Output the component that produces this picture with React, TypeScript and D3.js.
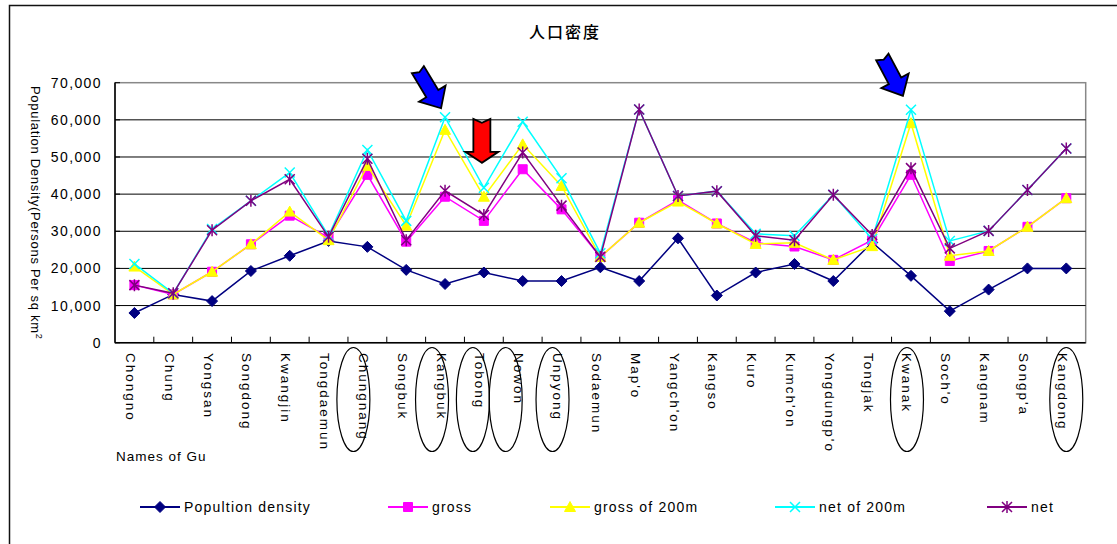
import * as d3 from "d3";
import { useEffect, useRef } from "react";

const guNames = [
  "Chongno", "Chung", "Yongsan", "Songdong", "Kwangjin", "Tongdaemun", "Chungnang",
  "Songbuk", "Kangbuk", "Tobong", "Nowon", "Unpyong", "Sodaemun", "Map'o",
  "Yangch'on", "Kangso", "Kuro", "Kumch'on", "Yongdungp'o", "Tongjak", "Kwanak",
  "Soch'o", "Kangnam", "Songp'a", "Kangdong",
];

const popDensity = [8000, 13000, 11200, 19300, 23400, 27400, 25800, 19600, 15800, 18900, 16600, 16600, 20300, 16600, 28100, 12700, 18900, 21200, 16600, 27000, 18000, 8500, 14300, 20000, 20000];
const gross = [15500, 13000, 19100, 26500, 34200, 28300, 45200, 27200, 39300, 32800, 46700, 35900, 23100, 32300, 38400, 32100, 26900, 25900, 22300, 27600, 45200, 22000, 24700, 31200, 38900];
const gross200 = [20500, 13000, 19100, 26500, 35300, 27600, 47600, 31500, 57300, 39300, 53400, 42200, 23100, 32300, 38000, 32100, 26600, 26900, 22300, 26000, 59100, 23400, 24700, 31200, 38900];
const net200 = [21200, 13300, 30600, 38200, 45800, 28800, 51900, 32800, 60700, 41700, 59500, 44300, 24100, 62800, 39500, 40800, 29300, 28800, 39800, 27900, 62700, 27400, 30100, 41100, 52300];
const net = [15500, 13300, 30300, 38200, 44000, 28500, 49500, 27600, 40900, 34400, 51200, 36900, 23100, 62800, 39500, 40800, 28800, 27600, 39800, 29000, 47000, 25400, 30100, 41100, 52300];

const yTicks = [0, 10000, 20000, 30000, 40000, 50000, 60000, 70000];

const seriesNames = ["Popultion density", "gross", "gross of 200m", "net of 200m", "net"];
const seriesColors = ["#000080", "#FF00FF", "#FFFF00", "#00FFFF", "#800080"];
const seriesMarkers = ["diamond", "square", "triangle", "cross", "star"];

// circled gu labels (annotation)
const circledGu = ["Chungnang", "Kangbuk", "Tobong", "Nowon", "Unpyong", "Kwanak", "Kangdong"];
const circleShift = [-14, -13, -11, -17, -9, -4, 0];

const W = 1117;
const H = 544;
const LATIN = "'Liberation Sans', Arial, sans-serif";

function markerPath(kind: string) {
  switch (kind) {
    case "diamond": return "M0,-5.5L5.5,0L0,5.5L-5.5,0Z";
    case "square": return "M-4.5,-4.5H4.5V4.5H-4.5Z";
    case "triangle": return "M0,-5.5L5.5,4.5L-5.5,4.5Z";
    case "cross": return "M-5,-5L5,5M-5,5L5,-5";
    default: return "M-5,-5L5,5M-5,5L5,-5M0,-6L0,6";
  }
}

// arrow pointing along +y with the tip at 0,0
function arrowPath(len: number, shaftW: number, headW: number, headL: number, notch: number) {
  const s = shaftW / 2, h = headW / 2;
  return `M0,0L${-h},${-headL}L${-s},${-headL}L${-s},${-len}L0,${-len + notch}L${s},${-len}L${s},${-headL}L${h},${-headL}Z`;
}

export default function App() {
  const svgRef = useRef<SVGSVGElement | null>(null);

  useEffect(() => {
    if (!svgRef.current) return;
    const svg = d3.select(svgRef.current);
    svg.selectAll("*").remove();

    const left = 115, right = 1085.7, top = 82.7, bottom = 342.7;

    const x = d3.scaleBand().domain(guNames).range([left, right]).padding(0);
    const cx = (n: string) => (x(n) || 0) + x.bandwidth() / 2;
    const y = d3.scaleLinear().domain([0, 70000]).range([bottom, top]);

    // outer chart border
    svg.append("rect")
      .attr("x", 9.5).attr("y", 5.5)
      .attr("width", 1300).attr("height", 700)
      .attr("fill", "#fff").attr("stroke", "#111").attr("stroke-width", 1.5);

    // title
    svg.append("text")
      .attr("x", 565).attr("y", 38)
      .attr("text-anchor", "middle")
      .style("font-family", "'Noto Sans CJK JP', sans-serif")
      .style("font-size", "16px")
      .style("font-weight", 500)
      .style("letter-spacing", "2px")
      .text("人口密度");

    // plot area border
    svg.append("rect")
      .attr("x", left).attr("y", top)
      .attr("width", right - left).attr("height", bottom - top)
      .attr("fill", "none").attr("stroke", "#888").attr("stroke-width", 1.5);

    // gridlines
    svg.append("g").selectAll("line")
      .data(yTicks.filter(t => t > 0 && t < 70000))
      .enter().append("line")
      .attr("x1", left).attr("x2", right)
      .attr("y1", d => y(d)).attr("y2", d => y(d))
      .attr("stroke", "#000").attr("stroke-width", 1);

    // axes
    svg.append("line").attr("x1", left).attr("x2", left).attr("y1", top).attr("y2", bottom)
      .attr("stroke", "#000").attr("stroke-width", 1.5);
    svg.append("line").attr("x1", left).attr("x2", right).attr("y1", bottom).attr("y2", bottom)
      .attr("stroke", "#000").attr("stroke-width", 1.5);

    // y ticks + labels
    const yg = svg.append("g");
    yTicks.forEach(t => {
      yg.append("line").attr("x1", left).attr("x2", left + 5).attr("y1", y(t)).attr("y2", y(t))
        .attr("stroke", "#000").attr("stroke-width", 1);
      yg.append("text")
        .attr("x", 102).attr("y", y(t) + 5)
        .attr("text-anchor", "end")
        .style("font-family", LATIN)
        .style("font-size", "14px")
        .style("letter-spacing", "1.4px")
        .text(d3.format(",")(t));
    });

    // x ticks (between categories, inside)
    svg.append("g").selectAll("line")
      .data(guNames.slice(1))
      .enter().append("line")
      .attr("x1", d => x(d) || 0).attr("x2", d => x(d) || 0)
      .attr("y1", bottom - 6).attr("y2", bottom)
      .attr("stroke", "#000").attr("stroke-width", 1);

    // x labels rotated
    svg.append("g").selectAll("text")
      .data(guNames)
      .enter().append("text")
      .attr("transform", d => `translate(${cx(d) - 8.5},353) rotate(90)`)
      .style("font-family", LATIN)
      .style("font-size", "13.5px")
      .style("letter-spacing", "2px")
      .text(d => d);

    // circled labels
    svg.append("g").selectAll("ellipse")
      .data(circledGu)
      .enter().append("ellipse")
      .attr("cx", (d, i) => cx(d) + circleShift[i])
      .attr("cy", 399.5)
      .attr("rx", 16.5).attr("ry", 52)
      .attr("fill", "none").attr("stroke", "#000").attr("stroke-width", 1.2);

    svg.append("text")
      .attr("x", 116).attr("y", 461)
      .style("font-family", LATIN)
      .style("font-size", "13.5px")
      .style("letter-spacing", "1px")
      .text("Names of  Gu");

    // y axis title
    const yt = svg.append("text")
      .attr("transform", "translate(31,86) rotate(90)")
      .style("font-family", LATIN)
      .style("font-size", "13px")
      .style("letter-spacing", "0.7px");
    yt.append("tspan").text("Population Density(Persons Per sq km");
    yt.append("tspan").attr("dy", -5).style("font-size", "9px").text("2");

    // series
    const allSeries = [popDensity, gross, gross200, net200, net];
    const line = d3.line<number>()
      .x((d, i) => cx(guNames[i]))
      .y(d => y(d));

    allSeries.forEach((vals, si) => {
      const color = seriesColors[si];
      const g = svg.append("g");
      g.append("path")
        .attr("d", line(vals) || "")
        .attr("fill", "none")
        .attr("stroke", color)
        .attr("stroke-width", 1.5);
      const kind = seriesMarkers[si];
      const stroked = kind === "cross" || kind === "star";
      g.selectAll("path.m")
        .data(vals)
        .enter().append("path")
        .attr("class", "m")
        .attr("transform", (d, i) => `translate(${cx(guNames[i])},${y(d)})`)
        .attr("d", markerPath(kind))
        .attr("fill", stroked ? "none" : color)
        .attr("stroke", color)
        .attr("stroke-width", stroked ? 1.5 : 1);
    });

    // arrows
    const arrows = [
      { gu: "Kangbuk", vals: net200, dx: -4, dy: -9, rot: -31, color: "#0000FF", len: 45, sw: 14, hw: 31, hl: 17, notch: 3 },
      { gu: "Tobong", vals: net200, dx: -2, dy: -25, rot: 0, color: "#FF0000", len: 44, sw: 17, hw: 33, hl: 11, notch: 4 },
      { gu: "Kwanak", vals: net200, dx: -8, dy: -14, rot: -28, color: "#0000FF", len: 44, sw: 14, hw: 31, hl: 17, notch: 3 },
    ];
    arrows.forEach(a => {
      const i = guNames.indexOf(a.gu);
      svg.append("path")
        .attr("transform", `translate(${cx(a.gu) + a.dx},${y(a.vals[i]) + a.dy}) rotate(${a.rot})`)
        .attr("d", arrowPath(a.len, a.sw, a.hw, a.hl, a.notch))
        .attr("fill", a.color)
        .attr("stroke", "#000")
        .attr("stroke-width", 1.8)
        .attr("stroke-linejoin", "miter");
    });

    // legend
    const legendX = [140, 388, 550, 775, 987];
    const ly = 507;
    seriesNames.forEach((name, si) => {
      const lx = legendX[si];
      const color = seriesColors[si];
      const kind = seriesMarkers[si];
      const stroked = kind === "cross" || kind === "star";
      svg.append("line").attr("x1", lx).attr("x2", lx + 40).attr("y1", ly).attr("y2", ly)
        .attr("stroke", color).attr("stroke-width", 2);
      svg.append("path")
        .attr("transform", `translate(${lx + 20},${ly})`)
        .attr("d", markerPath(kind))
        .attr("fill", stroked ? "none" : color)
        .attr("stroke", color)
        .attr("stroke-width", stroked ? 1.5 : 1);
      svg.append("text")
        .attr("x", lx + 44).attr("y", ly + 5)
        .style("font-family", LATIN)
        .style("font-size", "14px")
        .style("letter-spacing", "1.2px")
        .text(name);
    });
  }, []);

  return (
    <svg
      ref={svgRef}
      width={W}
      height={H}
      style={{ position: "absolute", left: 0, top: 0, background: "#fff" }}
    />
  );
}
